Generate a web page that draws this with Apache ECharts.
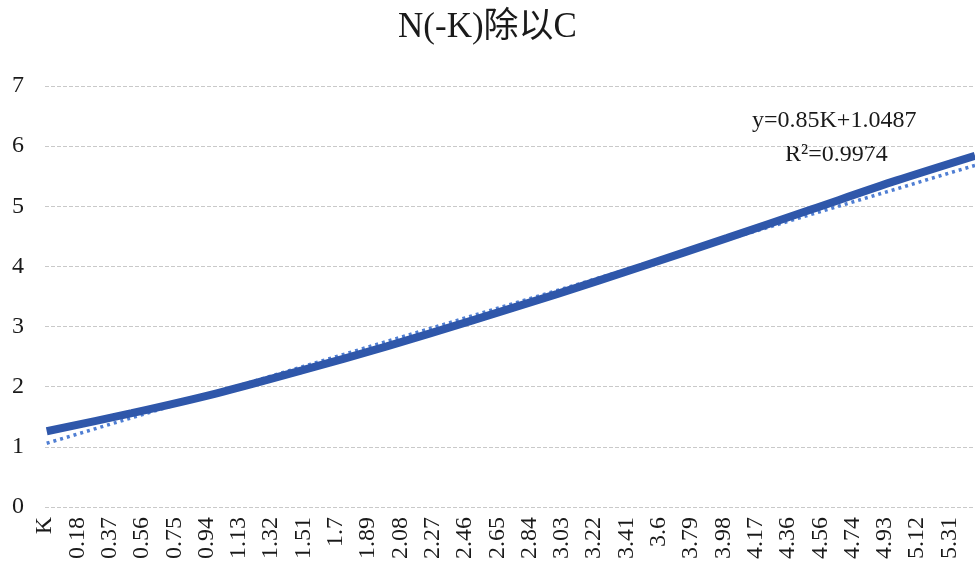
<!DOCTYPE html>
<html>
<head>
<meta charset="utf-8">
<script src="https://cdn.jsdelivr.net/npm/echarts@6/dist/echarts.min.js"></script>
<style>
html,body{margin:0;padding:0;background:#fff;}
#chart{width:975px;height:568px;}
</style>
</head>
<body>
<div id="chart"></div>
<script>
// Tick labels shown on the category-like K axis (every 19th row)
const tickLabels = ['K','0.18','0.37','0.56','0.75','0.94','1.13','1.32','1.51','1.7','1.89','2.08','2.27','2.46','2.65','2.84','3.03','3.22','3.41','3.6','3.79','3.98','4.17','4.36','4.56','4.74','4.93','5.12','5.31'];
// Curve N(-K)/C
const kValues = [0, 0.5, 1.0, 1.5, 2.0, 2.5, 3.0, 3.5, 4.0, 4.5, 5.0, 5.46];
const ratioValues = [1.26, 1.56, 1.89, 2.27, 2.67, 3.10, 3.54, 4.00, 4.47, 4.95, 5.43, 5.84];
// Linear trendline end points
const trendK = [0, 5.46];
const trendValues = [1.06, 5.68];
const yTicks = [0, 1, 2, 3, 4, 5, 6, 7];

const serif = "'Liberation Serif','Noto Sans CJK SC',serif";
const chart = echarts.init(document.getElementById('chart'), null, {renderer: 'canvas'});
const pairs = (xs, ys) => xs.map((x, i) => [x, ys[i]]);

chart.setOption({
  animation: false,
  backgroundColor: '#ffffff',
  title: {
    text: 'N(-K)除以C',
    left: 'center',
    top: 5,
    textStyle: {fontFamily: serif, fontSize: 35, fontWeight: 'normal', color: '#1a1a1a'}
  },
  grid: {left: 45, right: 0, top: 86, bottom: 61, containLabel: false},
  xAxis: {
    type: 'value',
    min: -0.01,
    max: 5.46,
    interval: 0.19,
    axisLine: {show: false},
    axisTick: {show: false},
    splitLine: {show: false},
    axisLabel: {
      rotate: 90,
      margin: 10,
      showMaxLabel: false,
      fontFamily: serif,
      fontSize: 24,
      color: '#1a1a1a',
      formatter: function (v) {
        const i = (v + 0.01) / 0.19;
        const r = Math.round(i);
        if (Math.abs(i - r) > 1e-6) return '';
        return tickLabels[r] !== undefined ? tickLabels[r] : '';
      }
    }
  },
  yAxis: {
    type: 'value',
    min: yTicks[0],
    max: yTicks[yTicks.length - 1],
    interval: 1,
    axisLine: {show: false},
    axisTick: {show: false},
    axisLabel: {
      margin: 21,
      fontFamily: serif,
      fontSize: 24,
      color: '#1a1a1a'
    },
    splitLine: {show: true, lineStyle: {color: '#c9c9c9', type: [4, 2], width: 1}}
  },
  graphic: [
    {type: 'text', left: 752, top: 109, style: {text: 'y=0.85K+1.0487', font: "24px " + serif, fill: '#1a1a1a'}},
    {type: 'text', left: 785, top: 143, style: {text: 'R²=0.9974', font: "24px " + serif, fill: '#1a1a1a'}}
  ],
  series: [
    {
      name: 'trend',
      type: 'line',
      data: pairs(trendK, trendValues),
      showSymbol: false,
      z: 2,
      lineStyle: {color: '#4F7ED3', width: 3.5, type: [3, 4]}
    },
    {
      name: 'N(-K)/C',
      type: 'line',
      data: pairs(kValues, ratioValues),
      smooth: 0.3,
      showSymbol: false,
      z: 3,
      lineStyle: {color: '#2F57AA', width: 8}
    }
  ]
});
</script>
</body>
</html>
